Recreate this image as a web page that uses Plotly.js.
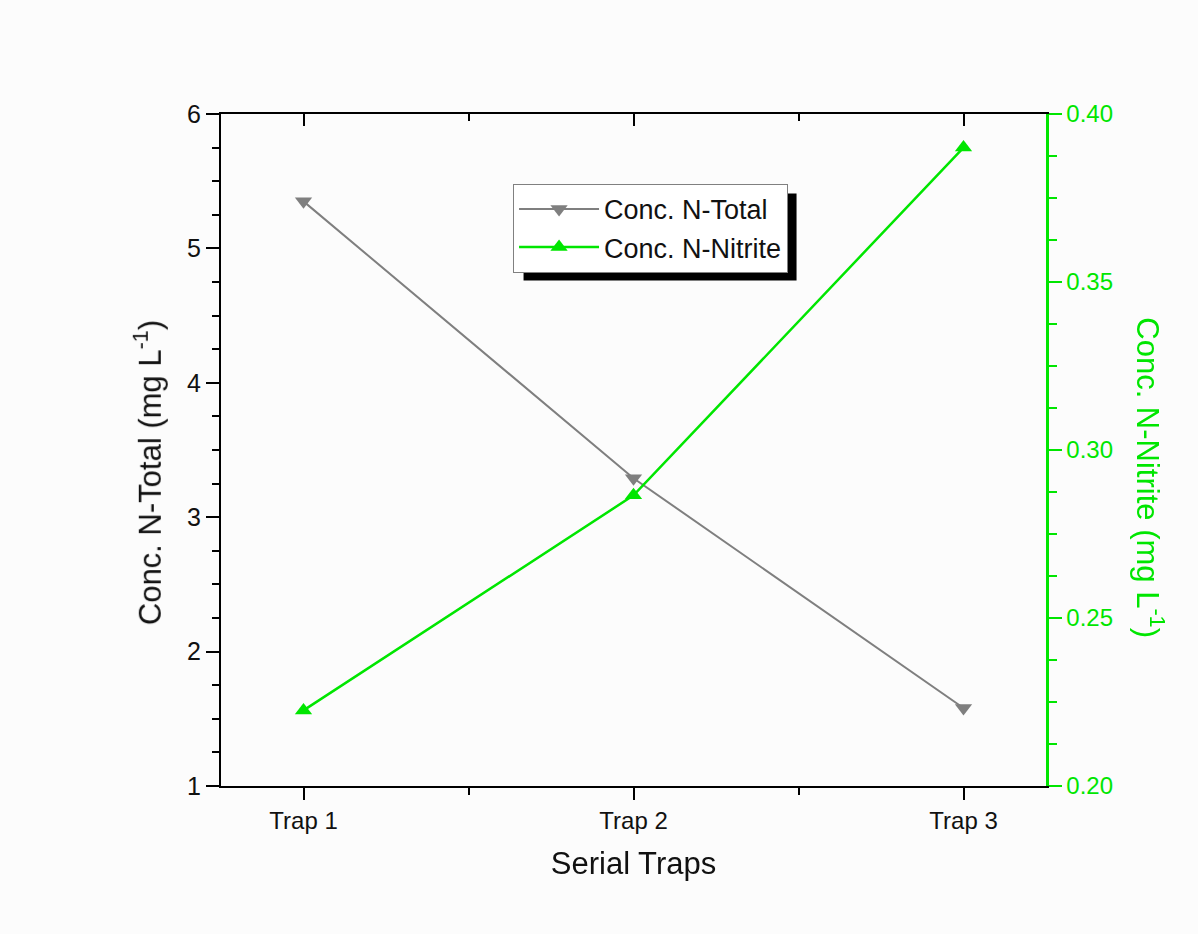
<!DOCTYPE html>
<html>
<head>
<meta charset="utf-8">
<script src="https://cdn.plot.ly/plotly-3.0.1.min.js"></script>
<style>html,body{margin:0;padding:0;background:#fcfcfc;}</style>
</head>
<body>
<div id="chart" style="width:1198px;height:934px;"></div>
<script>
const categories = ['Trap 1', 'Trap 2', 'Trap 3'];
const nTotal = [5.35, 3.29, 1.58];
const nNitrite = [0.2225, 0.2865, 0.390];
const leftTicks = [1, 2, 3, 4, 5, 6];
const rightTicks = [0.20, 0.25, 0.30, 0.35, 0.40];
const leftTitle = 'Conc. N-Total (mg L<sup>-1</sup>)';
const rightTitle = 'Conc. N-Nitrite (mg L<sup>-1</sup>)';
const xTitle = 'Serial Traps';

const xPos = categories.map((c, i) => i);
const minorX = xPos.slice(0, -1).map(v => v + 0.5);
const GREEN = '#00e600';
const GRAY = '#7f7f7f';
const FONT = 'Liberation Sans, Arial, sans-serif';

const traces = [
  {
    x: xPos, y: nTotal, name: 'Conc. N-Total', type: 'scatter', mode: 'lines+markers',
    line: {color: GRAY, width: 2},
    marker: {symbol: 'triangle-down', size: 15, color: GRAY},
    xaxis: 'x', yaxis: 'y'
  },
  {
    x: xPos, y: nNitrite, name: 'Conc. N-Nitrite', type: 'scatter', mode: 'lines+markers',
    line: {color: GREEN, width: 2.5},
    marker: {symbol: 'triangle-up', size: 15, color: GREEN},
    xaxis: 'x', yaxis: 'y2'
  },
  {
    x: xPos, y: nTotal, type: 'scatter', mode: 'markers', showlegend: false,
    hoverinfo: 'skip', opacity: 0, marker: {size: 1},
    xaxis: 'x2', yaxis: 'y'
  }
];

const xr = [-0.25, xPos.length - 1 + 0.25];

const layout = {
  width: 1198, height: 934,
  paper_bgcolor: '#fcfcfc', plot_bgcolor: '#fcfcfc',
  margin: {l: 221, r: 152, t: 114, b: 148, pad: 0},
  font: {family: FONT, color: '#111'},
  showlegend: true,
  legend: {
    x: 0.354, y: 0.896, xanchor: 'left', yanchor: 'top',
    bgcolor: '#ffffff', bordercolor: '#808080', borderwidth: 1,
    font: {family: FONT, size: 27, color: '#111'},
    tracegroupgap: 0, itemwidth: 80
  },
  xaxis: {
    range: xr, tickmode: 'array', tickvals: xPos, ticktext: categories,
    showgrid: false, zeroline: false,
    showline: true, linecolor: '#000', linewidth: 2,
    ticks: 'outside', ticklen: 12, tickwidth: 2, tickcolor: '#000',
    minor: {tickmode: 'array', tickvals: minorX, ticks: 'outside', ticklen: 7, tickwidth: 2, tickcolor: '#000', showgrid: false},
    tickfont: {family: FONT, size: 24, color: '#111'},
    title: {text: xTitle, font: {family: FONT, size: 31, color: '#111'}, standoff: 20},
    fixedrange: true
  },
  xaxis2: {
    overlaying: 'x', side: 'top', anchor: 'y', range: xr,
    tickmode: 'array', tickvals: xPos, showticklabels: false,
    showgrid: false, zeroline: false,
    showline: true, linecolor: '#000', linewidth: 2,
    ticks: 'inside', ticklen: 12, tickwidth: 2, tickcolor: '#000',
    minor: {tickmode: 'array', tickvals: minorX, ticks: 'inside', ticklen: 7, tickwidth: 2, tickcolor: '#000', showgrid: false}
  },
  yaxis: {
    range: [1, 6], tickmode: 'array', tickvals: leftTicks,
    showgrid: false, zeroline: false,
    showline: true, linecolor: '#000', linewidth: 2,
    ticks: 'outside', ticklen: 13, tickwidth: 2, tickcolor: '#000',
    minor: {dtick: 0.25, ticks: 'outside', ticklen: 7, tickwidth: 2, tickcolor: '#000', showgrid: false},
    tickfont: {family: FONT, size: 25, color: '#111'}
  },
  yaxis2: {
    overlaying: 'y', side: 'right', anchor: 'x',
    range: [0.2, 0.4], tickmode: 'array', tickvals: rightTicks, tickformat: '.2f',
    showgrid: false, zeroline: false,
    showline: true, linecolor: GREEN, linewidth: 2.5,
    ticks: 'outside', ticklen: 13, tickwidth: 2.5, tickcolor: GREEN,
    minor: {dtick: 0.0125, ticks: 'outside', ticklen: 8, tickwidth: 2.5, tickcolor: GREEN, showgrid: false},
    tickfont: {family: FONT, size: 24, color: GREEN}
  },
  annotations: [
    {text: leftTitle, xref: 'paper', yref: 'paper', x: -0.0885, y: 0.467,
     xanchor: 'center', yanchor: 'middle', textangle: -90, showarrow: false,
     font: {family: FONT, size: 31, color: '#111'}},
    {text: rightTitle, xref: 'paper', yref: 'paper', x: 1.126, y: 0.458,
     xanchor: 'center', yanchor: 'middle', textangle: 90, showarrow: false,
     font: {family: FONT, size: 31, color: GREEN}}
  ],
  shapes: []
};

Plotly.newPlot('chart', traces, layout, {displayModeBar: false, staticPlot: true}).then(gd => {
  const box = gd.querySelector('.legend .bg');
  if (box) {
    const r = box.getBoundingClientRect();
    const fs = gd._fullLayout._size;
    const toX = px => (px - fs.l) / fs.w;
    const toY = py => 1 - (py - fs.t) / fs.h;
    Plotly.relayout(gd, {shapes: [{
      type: 'rect', xref: 'paper', yref: 'paper', layer: 'above',
      x0: toX(r.left + 10), x1: toX(r.right + 9),
      y0: toY(r.bottom + 8), y1: toY(r.top + 9),
      fillcolor: '#000', line: {width: 0}
    }]});
  }
});
</script>
</body>
</html>
